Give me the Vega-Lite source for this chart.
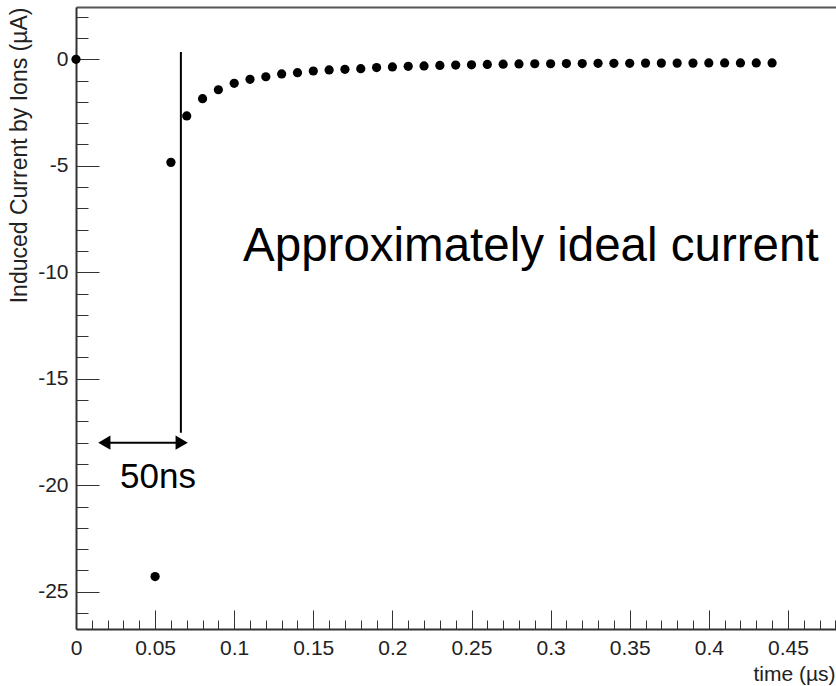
{
  "$schema": "https://vega.github.io/schema/vega-lite/v6.json",
  "width": 760,
  "height": 622,
  "autosize": {"type": "none"},
  "padding": {"left": 76, "top": 7, "right": 0, "bottom": 57},
  "background": "white",
  "config": {"view": {"stroke": null}, "font": "Liberation Sans"},
  "datasets": {
    "current": [
      {"t": 0, "i": 0},
      {"t": 0.05, "i": -24.29},
      {"t": 0.06, "i": -4.84},
      {"t": 0.07, "i": -2.66},
      {"t": 0.08, "i": -1.85},
      {"t": 0.09, "i": -1.43},
      {"t": 0.10, "i": -1.13},
      {"t": 0.11, "i": -0.94},
      {"t": 0.12, "i": -0.82},
      {"t": 0.13, "i": -0.69},
      {"t": 0.14, "i": -0.63},
      {"t": 0.15, "i": -0.55},
      {"t": 0.16, "i": -0.50},
      {"t": 0.17, "i": -0.47},
      {"t": 0.18, "i": -0.44},
      {"t": 0.19, "i": -0.39},
      {"t": 0.20, "i": -0.36},
      {"t": 0.21, "i": -0.33},
      {"t": 0.22, "i": -0.31},
      {"t": 0.23, "i": -0.29},
      {"t": 0.24, "i": -0.27},
      {"t": 0.25, "i": -0.26},
      {"t": 0.26, "i": -0.24},
      {"t": 0.27, "i": -0.23},
      {"t": 0.28, "i": -0.22},
      {"t": 0.29, "i": -0.21},
      {"t": 0.30, "i": -0.21},
      {"t": 0.31, "i": -0.20},
      {"t": 0.32, "i": -0.20},
      {"t": 0.33, "i": -0.19},
      {"t": 0.34, "i": -0.19},
      {"t": 0.35, "i": -0.19},
      {"t": 0.36, "i": -0.18},
      {"t": 0.37, "i": -0.18},
      {"t": 0.38, "i": -0.18},
      {"t": 0.39, "i": -0.18},
      {"t": 0.40, "i": -0.17},
      {"t": 0.41, "i": -0.17},
      {"t": 0.42, "i": -0.17},
      {"t": 0.43, "i": -0.17},
      {"t": 0.44, "i": -0.17}
    ]
  },
  "layer": [
    {
      "data": {"name": "current"},
      "mark": {"type": "circle", "size": 85, "color": "black", "opacity": 1, "clip": false},
      "encoding": {
        "x": {
          "field": "t", "type": "quantitative",
          "scale": {"domain": [0, 0.4804], "nice": false, "zero": false},
          "axis": {
            "orient": "bottom",
            "values": [0,0.01,0.02,0.03,0.04,0.05,0.06,0.07,0.08,0.09,0.1,0.11,0.12,0.13,0.14,0.15,0.16,0.17,0.18,0.19,0.2,0.21,0.22,0.23,0.24,0.25,0.26,0.27,0.28,0.29,0.3,0.31,0.32,0.33,0.34,0.35,0.36,0.37,0.38,0.39,0.4,0.41,0.42,0.43,0.44,0.45,0.46,0.47,0.48],
            "format": ".2~f",
            "labelExpr": "abs(datum.value*20-round(datum.value*20))<1e-6 ? datum.label : ''",
            "tickSize": {"condition": {"test": "abs(datum.value*20-round(datum.value*20))<1e-6", "value": -19}, "value": -9},
            "tickColor": "#333", "tickWidth": 1,
            "domainColor": "#333", "domainWidth": 2,
            "labelFontSize": 21, "labelColor": "#222", "labelPadding": 27,
            "labelFont": "Liberation Sans", "labelFlush": false, "labelOverlap": false,
            "grid": false,
            "title": "time (µs)", "titleFontSize": 21, "titleFontWeight": "normal",
            "titleFont": "Liberation Sans", "titleColor": "#222",
            "titleX": 759, "titleY": 51, "titleAlign": "right", "titleBaseline": "alphabetic"
          }
        },
        "y": {
          "field": "i", "type": "quantitative",
          "scale": {"domain": [-26.75, 2.455], "nice": false, "zero": false},
          "axis": {
            "orient": "left",
            "values": [-26,-25,-24,-23,-22,-21,-20,-19,-18,-17,-16,-15,-14,-13,-12,-11,-10,-9,-8,-7,-6,-5,-4,-3,-2,-1,0,1,2],
            "labelExpr": "datum.value % 5 === 0 ? (datum.value < 0 ? '-' + abs(datum.value) : '' + datum.value) : ''",
            "tickSize": {"condition": {"test": "datum.value % 5 === 0", "value": -23}, "value": -12},
            "tickColor": "#333", "tickWidth": 1,
            "domainColor": "#333", "domainWidth": 2,
            "labelFontSize": 21, "labelColor": "#222", "labelPadding": 31,
            "labelFont": "Liberation Sans", "labelFlush": false, "labelOverlap": false,
            "grid": false,
            "title": "Induced Current by Ions (µA)", "titleFontSize": 23, "titleFontWeight": "normal",
            "titleFont": "Liberation Sans", "titleColor": "#222",
            "titleAngle": -90, "titleX": -57, "titleY": 0, "titleAlign": "right", "titleBaseline": "middle"
          }
        }
      }
    },
    {
      "data": {"values": [{"t": 0.0663, "i1": 0.34, "i2": -17.53}]},
      "mark": {"type": "rule", "color": "black", "strokeWidth": 2},
      "encoding": {
        "x": {"field": "t", "type": "quantitative", "axis": null},
        "y": {"field": "i1", "type": "quantitative", "axis": null},
        "y2": {"field": "i2"}
      }
    },
    {
      "data": {"values": [{"t1": 0.0160, "t2": 0.0690, "i": -18.0}]},
      "mark": {"type": "rule", "color": "black", "strokeWidth": 2},
      "encoding": {
        "x": {"field": "t1", "type": "quantitative", "axis": null},
        "x2": {"field": "t2"},
        "y": {"field": "i", "type": "quantitative", "axis": null}
      }
    },
    {
      "data": {"values": [{"t": 0.0141, "i": -18.0}]},
      "mark": {"type": "point", "shape": "triangle-left", "size": 200, "filled": true, "color": "black", "opacity": 1, "xOffset": 6},
      "encoding": {
        "x": {"field": "t", "type": "quantitative", "axis": null},
        "y": {"field": "i", "type": "quantitative", "axis": null}
      }
    },
    {
      "data": {"values": [{"t": 0.0706, "i": -18.0}]},
      "mark": {"type": "point", "shape": "triangle-right", "size": 200, "filled": true, "color": "black", "opacity": 1, "xOffset": -6},
      "encoding": {
        "x": {"field": "t", "type": "quantitative", "axis": null},
        "y": {"field": "i", "type": "quantitative", "axis": null}
      }
    },
    {
      "data": {"values": [{"label": "50ns", "t": 0.0278, "i": -20.13}]},
      "mark": {"type": "text", "align": "left", "baseline": "alphabetic", "fontSize": 35, "font": "Liberation Sans", "color": "black"},
      "encoding": {
        "x": {"field": "t", "type": "quantitative", "axis": null},
        "y": {"field": "i", "type": "quantitative", "axis": null},
        "text": {"field": "label"}
      }
    },
    {
      "data": {"values": [{"label": "Approximately ideal current", "t": 0.1056, "i": -9.47}]},
      "mark": {"type": "text", "align": "left", "baseline": "alphabetic", "fontSize": 47.5, "font": "Liberation Sans", "color": "black"},
      "encoding": {
        "x": {"field": "t", "type": "quantitative",
          "axis": {"orient": "top", "labels": false, "ticks": false, "domain": true, "domainColor": "#555", "domainWidth": 2, "grid": false, "title": null}},
        "y": {"field": "i", "type": "quantitative", "axis": null},
        "text": {"field": "label"}
      }
    }
  ],
  "resolve": {"axis": {"x": "independent", "y": "independent"}}
}
